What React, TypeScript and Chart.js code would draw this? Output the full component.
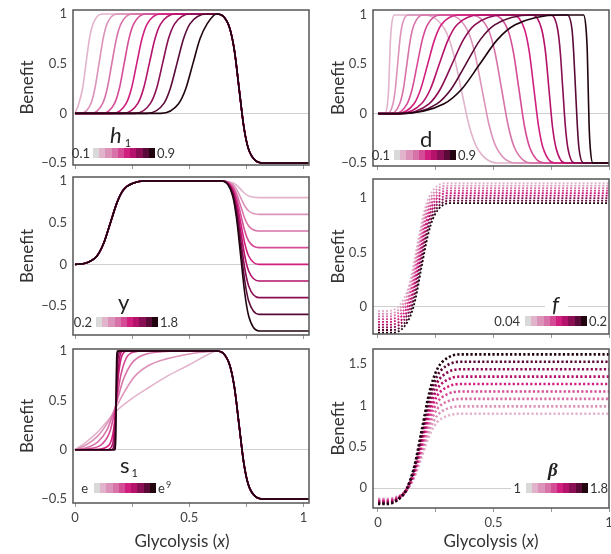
import React, { useEffect, useRef } from "react";
import { Chart, registerables } from "chart.js";

Chart.register(...registerables);
Chart.defaults.font.family = "Lato, 'DejaVu Sans', sans-serif";
Chart.defaults.color = "#333";

type Pt = [number, number];

// ---------- colours ----------
const SHADES = ["#e2b4cc", "#dc93ba", "#d873a9", "#d54c96", "#d11f7f", "#b5126b", "#8a0e53", "#5a0a37", "#200410"];
const COLORBAR = ["#d9d9d9", ...SHADES];

// ---------- ticks ----------
const X_TICKS = [0, 0.25, 0.5, 0.75, 1];
const X_TICK_LABELS = ["0", "", "0.5", "", "1"];
const Y_TICKS_STD = [-0.5, 0, 0.5, 1];
const Y_TICKS_F = [0, 0.5, 1];
const Y_TICKS_BETA = [0, 0.5, 1, 1.5];

// ---------- legend texts ----------
const LEGEND_LO = ["0.1", "0.1", "0.2", "0.04", "e", "1"];
const LEGEND_HI_BASE = ["0.9", "0.9", "1.8", "0.2", "e", "1.8"];
const LEGEND_HI_SUP = ["", "", "", "", "9", ""];

// ---------- panel h1 ----------
const H1_RISES: Pt[][] = [
  [[0, 0], [0.017, 0.1], [0.033, 0.25], [0.048, 0.5], [0.063, 0.75], [0.079, 0.9], [0.118, 1]],
  [[0, 0], [0.025, 0], [0.07, 0.1], [0.087, 0.25], [0.105, 0.5], [0.123, 0.75], [0.14, 0.9], [0.185, 1]],
  [[0, 0], [0.071, 0], [0.121, 0.1], [0.141, 0.25], [0.161, 0.5], [0.181, 0.75], [0.201, 0.9], [0.251, 1]],
  [[0, 0], [0.12, 0], [0.173, 0.1], [0.194, 0.25], [0.215, 0.5], [0.236, 0.75], [0.257, 0.9], [0.31, 1]],
  [[0, 0], [0.165, 0], [0.224, 0.1], [0.247, 0.25], [0.27, 0.5], [0.293, 0.75], [0.316, 0.9], [0.375, 1]],
  [[0, 0], [0.21, 0], [0.275, 0.1], [0.3, 0.25], [0.325, 0.5], [0.35, 0.75], [0.375, 0.9], [0.44, 1]],
  [[0, 0], [0.263, 0], [0.33, 0.1], [0.357, 0.25], [0.383, 0.5], [0.409, 0.75], [0.436, 0.9], [0.503, 1]],
  [[0, 0], [0.316, 0], [0.389, 0.1], [0.417, 0.25], [0.446, 0.5], [0.475, 0.75], [0.503, 0.9], [0.576, 1]],
  [[0, 0], [0.376, 0], [0.454, 0.1], [0.485, 0.25], [0.516, 0.5], [0.547, 0.75], [0.578, 0.9]],
];
const PEAK: Pt = [0.62, 1];
const COMMON_FALL: Pt[] = [
  [0.65, 0.975], [0.678, 0.85], [0.698, 0.625], [0.718, 0.25], [0.738, -0.125],
  [0.758, -0.35], [0.79, -0.475], [0.83, -0.5], [1.03, -0.5],
];

// ---------- panel d ----------
const D_CURVES: Pt[][] = [
  [[0, 0], [0.03, 0], [0.041, 0.1], [0.046, 0.25], [0.05, 0.5], [0.054, 0.75], [0.059, 0.9], [0.07, 1], [0.2, 1], [0.29, 0.85], [0.325, 0.625], [0.36, 0.25], [0.395, -0.125], [0.43, -0.35], [0.52, -0.5], [1.01, -0.5]],
  [[0, 0], [0.04, 0], [0.065, 0.1], [0.075, 0.25], [0.085, 0.5], [0.095, 0.75], [0.105, 0.9], [0.13, 1], [0.305, 1], [0.386, 0.85], [0.418, 0.625], [0.45, 0.25], [0.482, -0.125], [0.514, -0.35], [0.595, -0.5], [1.01, -0.5]],
  [[0, 0], [0.055, 0], [0.094, 0.1], [0.11, 0.25], [0.125, 0.5], [0.14, 0.75], [0.156, 0.9], [0.195, 1], [0.405, 1], [0.478, 0.85], [0.506, 0.625], [0.535, 0.25], [0.564, -0.125], [0.592, -0.35], [0.665, -0.5], [1.01, -0.5]],
  [[0, 0], [0.07, 0], [0.126, 0.1], [0.148, 0.25], [0.17, 0.5], [0.192, 0.75], [0.214, 0.9], [0.27, 1], [0.5, 1], [0.562, 0.85], [0.586, 0.625], [0.61, 0.25], [0.634, -0.125], [0.658, -0.35], [0.72, -0.5], [1.01, -0.5]],
  [[0, 0], [0.08, 0], [0.156, 0.1], [0.185, 0.25], [0.215, 0.5], [0.245, 0.75], [0.274, 0.9], [0.35, 1], [0.585, 1], [0.635, 0.85], [0.655, 0.625], [0.675, 0.25], [0.695, -0.125], [0.715, -0.35], [0.765, -0.5], [1.01, -0.5]],
  [[0, 0], [0.09, 0], [0.188, 0.1], [0.227, 0.25], [0.265, 0.5], [0.304, 0.75], [0.342, 0.9], [0.44, 1], [0.67, 1], [0.709, 0.85], [0.725, 0.625], [0.74, 0.25], [0.755, -0.125], [0.771, -0.35], [0.81, -0.5], [1.01, -0.5]],
  [[0, 0], [0.095, 0], [0.221, 0.1], [0.27, 0.25], [0.32, 0.5], [0.37, 0.75], [0.419, 0.9], [0.545, 1], [0.75, 1], [0.778, 0.85], [0.789, 0.625], [0.8, 0.25], [0.811, -0.125], [0.822, -0.35], [0.85, -0.5], [1.01, -0.5]],
  [[0, 0], [0.095, 0], [0.255, 0.1], [0.317, 0.25], [0.38, 0.5], [0.443, 0.75], [0.505, 0.9], [0.665, 1], [0.82, 1], [0.84, 0.85], [0.847, 0.625], [0.855, 0.25], [0.863, -0.125], [0.87, -0.35], [0.89, -0.5], [1.01, -0.5]],
  [[0, 0], [0.09, 0], [0.286, 0.1], [0.363, 0.25], [0.44, 0.5], [0.517, 0.75], [0.594, 0.9], [0.79, 1], [0.89, 1], [0.901, 0.85], [0.906, 0.625], [0.91, 0.25], [0.914, -0.125], [0.919, -0.35], [0.93, -0.5], [1.01, -0.5]],
];

// ---------- panel y ----------
const Y_RISE: Pt[] = [[0, 0], [0.04, 0.01], [0.096, 0.1], [0.125, 0.25], [0.155, 0.5], [0.185, 0.75], [0.214, 0.9], [0.26, 0.98], [0.3, 1], [0.645, 1]];
const Y_FALL_X = [0.69, 0.707, 0.725, 0.743, 0.76, 0.805, 1.03];
const Y_FALL_VALUES: number[][] = [
  [0.98, 0.95, 0.9, 0.85, 0.82, 0.8, 0.8],
  [0.96, 0.9, 0.8, 0.7, 0.64, 0.6, 0.6],
  [0.94, 0.85, 0.7, 0.55, 0.46, 0.4, 0.4],
  [0.92, 0.8, 0.6, 0.4, 0.28, 0.2, 0.2],
  [0.9, 0.75, 0.5, 0.25, 0.1, 0, 0],
  [0.88, 0.7, 0.4, 0.1, -0.08, -0.2, -0.2],
  [0.86, 0.65, 0.3, -0.05, -0.26, -0.4, -0.4],
  [0.84, 0.6, 0.2, -0.2, -0.44, -0.6, -0.6],
  [0.82, 0.55, 0.1, -0.35, -0.62, -0.8, -0.8],
];

// ---------- panel f ----------
const F_CURVES: Pt[][] = [
  [[0, -0.04], [0.043, -0.04], [0.113, 0.078], [0.141, 0.255], [0.168, 0.55], [0.196, 0.845], [0.223, 1.022], [0.293, 1.14], [1.01, 1.14]],
  [[0, -0.065], [0.046, -0.065], [0.116, 0.053], [0.143, 0.231], [0.171, 0.526], [0.198, 0.822], [0.226, 0.999], [0.296, 1.117], [1.01, 1.117]],
  [[0, -0.09], [0.048, -0.09], [0.118, 0.028], [0.146, 0.206], [0.173, 0.502], [0.201, 0.798], [0.228, 0.976], [0.298, 1.094], [1.01, 1.094]],
  [[0, -0.115], [0.051, -0.115], [0.121, 0.004], [0.148, 0.182], [0.176, 0.478], [0.203, 0.775], [0.231, 0.952], [0.301, 1.071], [1.01, 1.071]],
  [[0, -0.14], [0.053, -0.14], [0.123, -0.021], [0.151, 0.157], [0.178, 0.454], [0.206, 0.751], [0.233, 0.929], [0.303, 1.048], [1.01, 1.048]],
  [[0, -0.165], [0.056, -0.165], [0.126, -0.046], [0.153, 0.133], [0.181, 0.43], [0.208, 0.728], [0.236, 0.906], [0.306, 1.025], [1.01, 1.025]],
  [[0, -0.19], [0.058, -0.19], [0.128, -0.071], [0.156, 0.108], [0.183, 0.406], [0.211, 0.704], [0.238, 0.883], [0.308, 1.002], [1.01, 1.002]],
  [[0, -0.215], [0.061, -0.215], [0.131, -0.096], [0.158, 0.084], [0.186, 0.382], [0.213, 0.681], [0.241, 0.86], [0.311, 0.979], [1.01, 0.979]],
  [[0, -0.24], [0.063, -0.24], [0.133, -0.12], [0.161, 0.059], [0.188, 0.358], [0.216, 0.657], [0.243, 0.836], [0.313, 0.956], [1.01, 0.956]],
];

// ---------- panel s1 ----------
const S1_RISES: Pt[][] = [
  [[0, 0], [0.05, 0.08], [0.1, 0.18], [0.18, 0.39], [0.25, 0.52], [0.33, 0.64], [0.4, 0.74], [0.5, 0.86], [0.6, 0.985]],
  [[0, 0], [0.05, 0.05], [0.1, 0.14], [0.15, 0.3], [0.18, 0.43], [0.22, 0.6], [0.26, 0.74], [0.32, 0.85], [0.4, 0.92], [0.5, 0.97], [0.6, 0.997]],
  [[0, 0], [0.05, 0.02], [0.1, 0.08], [0.14, 0.2], [0.18, 0.46], [0.21, 0.7], [0.25, 0.88], [0.3, 0.96], [0.4, 0.995], [0.5, 1]],
  [[0, 0], [0.06, 0.01], [0.12, 0.06], [0.155, 0.2], [0.18, 0.47], [0.2, 0.75], [0.225, 0.93], [0.26, 0.99], [0.3, 1]],
  [[0, 0], [0.1, 0.005], [0.15, 0.05], [0.17, 0.22], [0.18, 0.47], [0.19, 0.75], [0.205, 0.95], [0.23, 1]],
  [[0, 0], [0.14, 0], [0.165, 0.06], [0.175, 0.3], [0.18, 0.47], [0.186, 0.7], [0.195, 0.93], [0.21, 1]],
  [[0, 0], [0.16, 0], [0.172, 0.07], [0.177, 0.3], [0.18, 0.47], [0.183, 0.68], [0.188, 0.92], [0.2, 1]],
  [[0, 0], [0.17, 0], [0.176, 0.08], [0.179, 0.35], [0.181, 0.65], [0.184, 0.92], [0.19, 1]],
  [[0, 0], [0.176, 0], [0.178, 0.1], [0.18, 0.5], [0.182, 0.9], [0.184, 1]],
];

// ---------- panel beta ----------
const BETA_X = [0, 0.04, 0.1, 0.124, 0.157, 0.19, 0.223, 0.256, 0.295, 0.355, 1.01];
const BETA_VALUES: number[][] = [
  [-0.13, -0.13, -0.082, -0.027, 0.128, 0.385, 0.643, 0.797, 0.869, 0.9, 0.9],
  [-0.138, -0.138, -0.085, -0.025, 0.144, 0.426, 0.708, 0.877, 0.956, 0.99, 0.99],
  [-0.146, -0.146, -0.088, -0.023, 0.161, 0.467, 0.774, 0.957, 1.043, 1.08, 1.08],
  [-0.154, -0.154, -0.092, -0.022, 0.177, 0.508, 0.839, 1.038, 1.13, 1.17, 1.17],
  [-0.162, -0.162, -0.095, -0.02, 0.194, 0.549, 0.905, 1.118, 1.217, 1.26, 1.26],
  [-0.17, -0.17, -0.099, -0.018, 0.21, 0.59, 0.97, 1.198, 1.304, 1.35, 1.35],
  [-0.178, -0.178, -0.102, -0.016, 0.227, 0.631, 1.036, 1.278, 1.391, 1.44, 1.44],
  [-0.186, -0.186, -0.105, -0.014, 0.243, 0.672, 1.101, 1.358, 1.479, 1.53, 1.53],
  [-0.194, -0.194, -0.109, -0.013, 0.26, 0.713, 1.167, 1.439, 1.566, 1.62, 1.62],
];

// ---------- assemble series ----------
const h1Series: Pt[][] = H1_RISES.map((r) => [...r, PEAK, ...COMMON_FALL]);
const s1Series: Pt[][] = S1_RISES.map((r) => [...r, PEAK, ...COMMON_FALL]);
const ySeries: Pt[][] = Y_FALL_VALUES.map((vals) => [...Y_RISE, ...Y_FALL_X.map((x, i) => [x, vals[i]] as Pt)]);
const betaSeries: Pt[][] = BETA_VALUES.map((vals) => BETA_X.map((x, i) => [x, vals[i]] as Pt));

type PanelCfg = {
  left: number; top: number; w: number; h: number;
  yW: number; padTop: number; padRight: number; xH: number;
  xMin: number; xMax: number; yMin: number; yMax: number;
  yTicks: number[]; curves: Pt[][]; dash: number[]; lw: number; showX: boolean;
};

const LEFT_X = { xMin: -0.0088, xMax: 1.024 };
const RIGHT_X = { xMin: -0.0216, xMax: 1.0 };

const PANELS: PanelCfg[] = [
  { left: 0, top: 0, w: 311, h: 172, yW: 73, padTop: 10, padRight: 2, xH: 7, ...LEFT_X, yMin: -0.52, yMax: 1.04, yTicks: Y_TICKS_STD, curves: h1Series, dash: [], lw: 1.6, showX: false },
  { left: 311, top: 0, w: 300, h: 172, yW: 62, padTop: 10, padRight: 2, xH: 6, ...RIGHT_X, yMin: -0.53, yMax: 1.05, yTicks: Y_TICKS_STD, curves: D_CURVES, dash: [], lw: 1.6, showX: false },
  { left: 0, top: 172, w: 311, h: 168, yW: 73, padTop: 5, padRight: 2, xH: 5, ...LEFT_X, yMin: -0.848, yMax: 1.048, yTicks: Y_TICKS_STD, curves: ySeries, dash: [], lw: 1.6, showX: false },
  { left: 311, top: 172, w: 300, h: 168, yW: 62, padTop: 7, padRight: 2, xH: 6, ...RIGHT_X, yMin: -0.252, yMax: 1.178, yTicks: Y_TICKS_F, curves: F_CURVES, dash: [2, 2], lw: 1.8, showX: false },
  { left: 0, top: 340, w: 311, h: 214, yW: 73, padTop: 9, padRight: 2, xH: 51, ...LEFT_X, yMin: -0.54, yMax: 1.02, yTicks: Y_TICKS_STD, curves: s1Series, dash: [], lw: 1.6, showX: true },
  { left: 311, top: 340, w: 300, h: 214, yW: 62, padTop: 9, padRight: 2, xH: 46, ...RIGHT_X, yMin: -0.242, yMax: 1.685, yTicks: Y_TICKS_BETA, curves: betaSeries, dash: [2.2, 2.2], lw: 2.6, showX: true },
];

const framePlugin = {
  id: "frame",
  afterDraw(chart: any) {
    const { ctx, chartArea: a } = chart;
    ctx.save();
    ctx.strokeStyle = "#555";
    ctx.lineWidth = 1.5;
    ctx.strokeRect(a.left, a.top, a.right - a.left, a.bottom - a.top);
    ctx.restore();
  },
};

const fmt = (v: number) => (v < 0 ? "\u2212" + Math.abs(v) : String(v));

function Panel({ cfg }: { cfg: PanelCfg }) {
  const ref = useRef<HTMLCanvasElement>(null);
  useEffect(() => {
    const n = cfg.curves.length;
    const chart = new Chart(ref.current as HTMLCanvasElement, {
      type: "line",
      data: {
        datasets: cfg.curves.map((pts, i) => ({
          data: pts.map(([x, y]) => ({ x, y })),
          borderColor: SHADES[i],
          borderWidth: cfg.lw,
          borderDash: cfg.dash,
          pointRadius: 0,
          fill: false,
          cubicInterpolationMode: "monotone" as const,
          order: n - i,
        })),
      },
      options: {
        responsive: false,
        animation: false,
        devicePixelRatio: 1,
        layout: { padding: { top: cfg.padTop, right: cfg.padRight, left: 0, bottom: 0 } },
        plugins: { legend: { display: false }, tooltip: { enabled: false } },
        scales: {
          x: {
            type: "linear",
            min: cfg.xMin,
            max: cfg.xMax,
            afterBuildTicks: (s: any) => { s.ticks = X_TICKS.map((v) => ({ value: v })); },
            afterFit: (s: any) => { s.height = cfg.xH; s.paddingLeft = 0; s.paddingRight = 0; s.paddingTop = 0; s.paddingBottom = 0; },
            ticks: {
              autoSkip: false,
              maxRotation: 0,
              padding: 3,
              color: "#444",
              font: { size: 13 },
              callback: (v: any) => (cfg.showX ? X_TICK_LABELS[X_TICKS.indexOf(Number(v))] ?? "" : ""),
            },
            grid: { drawOnChartArea: false, drawTicks: true, tickLength: 4, tickColor: "#999" },
            border: { display: false },
          },
          y: {
            type: "linear",
            min: cfg.yMin,
            max: cfg.yMax,
            afterBuildTicks: (s: any) => { s.ticks = cfg.yTicks.map((v) => ({ value: v })); },
            afterFit: (s: any) => { s.width = cfg.yW; s.paddingLeft = 0; s.paddingRight = 0; s.paddingTop = 0; s.paddingBottom = 0; },
            ticks: { padding: 6, color: "#444", font: { size: 13 }, callback: (v: any) => fmt(Number(v)) },
            grid: {
              drawTicks: false,
              lineWidth: 1,
              color: (c: any) => (c.tick && c.tick.value === 0 ? "#cfcfcf" : "rgba(0,0,0,0)"),
            },
            border: { display: false },
            title: { display: true, text: "Benefit", color: "#333", font: { size: 17 }, padding: { top: 17, bottom: 0 } },
          },
        },
      },
      plugins: [framePlugin],
    } as any);
    return () => chart.destroy();
  }, []);
  return (
    <canvas
      ref={ref}
      width={cfg.w}
      height={cfg.h}
      style={{ position: "absolute", left: cfg.left, top: cfg.top, width: cfg.w, height: cfg.h }}
    />
  );
}

type LegendCfg = {
  sym: React.ReactNode; symLeft: number; symTop: number; symFont: string; symLH: number;
  barLeft: number; barTop: number; loGap: number; bg?: { l: number; t: number; w: number; h: number }[];
};

const txt: React.CSSProperties = { position: "absolute", font: "13px Lato, sans-serif", color: "#333", lineHeight: "16px", whiteSpace: "nowrap" };

const LEGENDS: LegendCfg[] = [
  { sym: <><span style={{ fontStyle: "italic" }}>h</span><span style={{ fontSize: 11, position: "relative", top: 4, marginLeft: 3 }}>1</span></>, symLeft: 110, symTop: 123.5, symFont: "22px Lato, sans-serif", symLH: 22, barLeft: 93, barTop: 148, loGap: 3 },
  { sym: <span>d</span>, symLeft: 420, symTop: 127.5, symFont: "22px Lato, sans-serif", symLH: 22, barLeft: 394, barTop: 150, loGap: 4 },
  { sym: <span>y</span>, symLeft: 118, symTop: 291, symFont: "22px Lato, sans-serif", symLH: 22, barLeft: 96, barTop: 317, loGap: 4 },
  { sym: <span style={{ fontStyle: "italic" }}>f</span>, symLeft: 552, symTop: 292.5, symFont: "22px Lato, sans-serif", symLH: 22, barLeft: 525, barTop: 316, loGap: 5, bg: [{ l: 545, t: 299, w: 23, h: 14 }] },
  { sym: <><span>s</span><span style={{ fontSize: 11, position: "relative", top: 4, marginLeft: 2 }}>1</span></>, symLeft: 120, symTop: 453.5, symFont: "22px Lato, sans-serif", symLH: 22, barLeft: 94, barTop: 483, loGap: 6 },
  { sym: <span style={{ fontStyle: "italic", fontWeight: "bold" }}>β</span>, symLeft: 548, symTop: 460, symFont: "19px 'Liberation Serif', 'DejaVu Serif', serif", symLH: 19, barLeft: 526, barTop: 483, loGap: 5, bg: [{ l: 511, t: 481, w: 96, h: 14 }] },
];

function Legend({ cfg, idx }: { cfg: LegendCfg; idx: number }) {
  const cellW = 6.2;
  const barW = cellW * COLORBAR.length;
  return (
    <>
      {(cfg.bg || []).map((b, i) => (
        <div key={"bg" + i} style={{ position: "absolute", left: b.l, top: b.t, width: b.w, height: b.h, background: "#fff" }} />
      ))}
      <div style={{ position: "absolute", left: cfg.symLeft, top: cfg.symTop, font: cfg.symFont, lineHeight: cfg.symLH + "px", color: "#222", whiteSpace: "nowrap" }}>
        {cfg.sym}
      </div>
      <div style={{ ...txt, left: cfg.barLeft - cfg.loGap - 40, width: 40, textAlign: "right", top: cfg.barTop - 3 }}>{LEGEND_LO[idx]}</div>
      <div style={{ position: "absolute", left: cfg.barLeft, top: cfg.barTop, display: "flex" }}>
        {COLORBAR.map((c, i) => (
          <div key={i} style={{ width: cellW, height: 10, background: c }} />
        ))}
      </div>
      <div style={{ ...txt, left: cfg.barLeft + barW + 2, top: cfg.barTop - 3 }}>
        {LEGEND_HI_BASE[idx]}
        {LEGEND_HI_SUP[idx] ? (
          <span style={{ fontSize: 9, position: "relative", top: -5, marginLeft: 1 }}>{LEGEND_HI_SUP[idx]}</span>
        ) : null}
      </div>
    </>
  );
}

export default function App() {
  return (
    <div style={{ position: "absolute", left: 0, top: 0, width: 611, height: 554, background: "#fff", overflow: "hidden" }}>
      {PANELS.map((p, i) => (
        <Panel key={i} cfg={p} />
      ))}
      {LEGENDS.map((l, i) => (
        <Legend key={i} cfg={l} idx={i} />
      ))}
      <div style={{ position: "absolute", left: 82, width: 200, top: 531, textAlign: "center", font: "17px Lato, sans-serif", lineHeight: "20px", color: "#333" }}>
        Glycolysis (<i>x</i>)
      </div>
      <div style={{ position: "absolute", left: 391, width: 200, top: 531, textAlign: "center", font: "17px Lato, sans-serif", lineHeight: "20px", color: "#333" }}>
        Glycolysis (<i>x</i>)
      </div>
    </div>
  );
}
